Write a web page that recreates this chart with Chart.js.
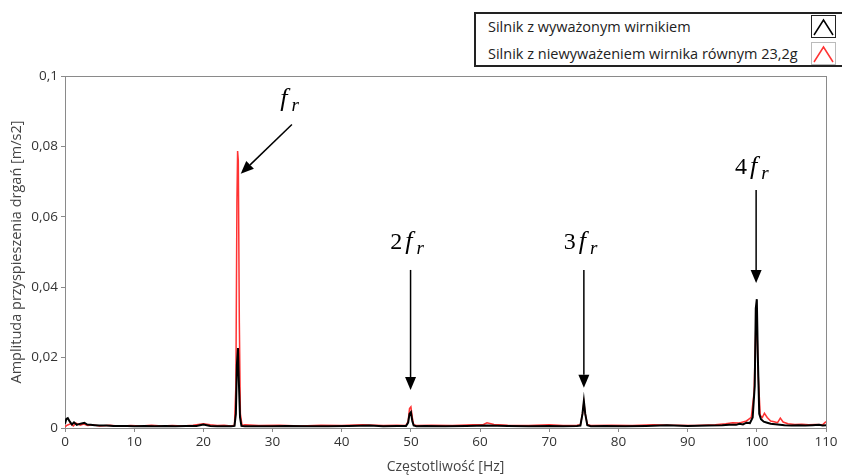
<!DOCTYPE html>
<html>
<head>
<meta charset="utf-8">
<script src="https://cdn.jsdelivr.net/npm/chart.js@4.4.1/dist/chart.umd.min.js"></script>
<style>
  body { margin: 0; background: #fff; }
  #wrap { position: relative; width: 842px; height: 475px; }
  #legend {
    position: absolute; left: 474px; top: 12px; width: 368px; height: 51px;
    border: 2px solid #222; border-right: none; background: #fff;
    font-family: "Open Sans", sans-serif; font-size: 14.5px; color: #222;
  }
  .row { position: absolute; left: 12px; height: 24px; line-height: 24px; }
  .sw { position: absolute; left: 335px; width: 25px; height: 23px; border: 1px solid #222; box-sizing: border-box; }
  .pre { position: absolute; left: -999px; font-family: "Liberation Serif"; }
</style>
</head>
<body>
<div id="wrap">
  <canvas id="c" width="842" height="475"></canvas>
  <div id="legend">
    <div class="row" style="top:1px">Silnik z wyważonym wirnikiem</div>
    <div class="row" style="top:28px">Silnik z niewyważeniem wirnika równym 23,2g</div>
    <div class="sw" style="top:1px"><svg width="23" height="21"><polyline points="2,19 11.5,4 21,19" fill="none" stroke="#000" stroke-width="1.5"/></svg></div>
    <div class="sw" style="top:28px;border-color:#bbb"><svg width="23" height="21"><polyline points="2,19 11.5,4 21,19" fill="none" stroke="#ff3333" stroke-width="1.5"/></svg></div>
  </div>
  <span class="pre">2 <i>f</i></span>
</div>
<script>
const seriesNames = ['Silnik z wyważonym wirnikiem', 'Silnik z niewyważeniem wirnika równym 23,2g'];

const freqBalanced = [0, 0.2, 0.4, 0.7, 1.0, 1.3, 1.7, 2.0, 2.4, 2.8, 3.2, 3.7, 4.3, 5, 6, 7, 8, 9, 10, 11.5, 13, 14.5, 16, 17.5, 19, 20, 21, 22, 23, 24, 24.5, 24.7, 24.85, 25.0, 25.15, 25.3, 25.5, 26, 28, 30, 32, 35, 38, 41, 44, 46, 48, 49.3, 49.6, 49.8, 50.0, 50.2, 50.4, 50.8, 52, 55, 58, 61, 64, 67, 70, 72, 74, 74.5, 74.8, 75.0, 75.2, 75.5, 76, 78, 81, 84, 87, 90, 93, 95, 96, 97, 97.5, 98, 98.5, 99, 99.4, 99.7, 99.85, 100.0, 100.15, 100.35, 100.6, 101, 101.5, 102, 103, 104, 105, 106, 107, 108, 109, 109.5, 110];
const ampBalanced = [0.0012, 0.0026, 0.0028, 0.0018, 0.0010, 0.0016, 0.0009, 0.0011, 0.0013, 0.0015, 0.0010, 0.0009, 0.0008, 0.0007, 0.0007, 0.0006, 0.0006, 0.0006, 0.0005, 0.0006, 0.0005, 0.0006, 0.0005, 0.0006, 0.0006, 0.0010, 0.0006, 0.0005, 0.0005, 0.0005, 0.0006, 0.0040, 0.0180, 0.0227, 0.0120, 0.0030, 0.0006, 0.0005, 0.0005, 0.0005, 0.0006, 0.0005, 0.0005, 0.0006, 0.0007, 0.0005, 0.0006, 0.0006, 0.0015, 0.0040, 0.0045, 0.0020, 0.0007, 0.0005, 0.0006, 0.0005, 0.0006, 0.0007, 0.0006, 0.0005, 0.0006, 0.0005, 0.0006, 0.0007, 0.0040, 0.0077, 0.0040, 0.0008, 0.0005, 0.0006, 0.0005, 0.0006, 0.0008, 0.0006, 0.0007, 0.0008, 0.0009, 0.0009, 0.0012, 0.0010, 0.0015, 0.0014, 0.0030, 0.0120, 0.0340, 0.0366, 0.0200, 0.0040, 0.0025, 0.0018, 0.0015, 0.0012, 0.0010, 0.0008, 0.0007, 0.0008, 0.0007, 0.0008, 0.0009, 0.0007, 0.0008];

const freqUnbalanced = [0, 0.3, 0.8, 1.2, 1.6, 2.2, 2.7, 3.3, 4, 5, 6.5, 8, 9.5, 11, 12.5, 14, 15.5, 17, 18.5, 20, 21, 22, 23, 24, 24.5, 24.7, 24.85, 24.95, 25.05, 25.2, 25.35, 25.6, 26, 28, 31, 34, 37, 40, 43, 46, 48, 49.3, 49.6, 49.8, 50.0, 50.2, 50.4, 50.8, 53, 56, 59, 60.5, 61, 62, 64, 67, 70, 72, 74, 74.5, 74.8, 75.0, 75.2, 75.5, 76, 79, 82, 85, 88, 91, 94, 95.5, 96.5, 97.5, 98.5, 99.2, 99.6, 99.85, 100.0, 100.2, 100.5, 100.8, 101.1, 101.5, 102, 102.5, 103, 103.4, 103.8, 104.5, 105.5, 106.5, 107.5, 108.5, 109.5, 110];
const ampUnbalanced = [0.0003, 0.0008, 0.0012, 0.0006, 0.0014, 0.0008, 0.0011, 0.0007, 0.0009, 0.0006, 0.0008, 0.0005, 0.0007, 0.0006, 0.0008, 0.0006, 0.0007, 0.0006, 0.0008, 0.0012, 0.0009, 0.0007, 0.0008, 0.0006, 0.0008, 0.0120, 0.0640, 0.0787, 0.0760, 0.0300, 0.0040, 0.0007, 0.0009, 0.0007, 0.0008, 0.0006, 0.0008, 0.0007, 0.0009, 0.0007, 0.0008, 0.0007, 0.0020, 0.0055, 0.0060, 0.0030, 0.0009, 0.0007, 0.0008, 0.0007, 0.0009, 0.0010, 0.0015, 0.0010, 0.0008, 0.0007, 0.0009, 0.0007, 0.0008, 0.0009, 0.0040, 0.0072, 0.0040, 0.0010, 0.0007, 0.0008, 0.0007, 0.0009, 0.0008, 0.0007, 0.0009, 0.0012, 0.0015, 0.0014, 0.0020, 0.0030, 0.0100, 0.0280, 0.0300, 0.0150, 0.0035, 0.0030, 0.0042, 0.0030, 0.0020, 0.0018, 0.0015, 0.0028, 0.0017, 0.0012, 0.0010, 0.0011, 0.0009, 0.0010, 0.0009, 0.0018];

const xTicks = [0, 10, 20, 30, 40, 50, 60, 70, 80, 90, 100, 110];
const yTickLabels = ['0', '0,02', '0,04', '0,06', '0,08', '0,1'];

// harmonic annotations: label start / baseline and arrow from -> to, in data units
const harmonics = [
  { mult: '',  lx: 31.1, ly: 0.0915, x0: 32.8, y0: 0.0862, x1: 25.4, y1: 0.0722 },
  { mult: '2', lx: 47.0, ly: 0.0509, x0: 49.95, y0: 0.0449, x1: 49.95, y1: 0.0108 },
  { mult: '3', lx: 72.1, ly: 0.0509, x0: 75.0, y0: 0.0449, x1: 75.0, y1: 0.0114 },
  { mult: '4', lx: 96.85, ly: 0.0722, x0: 99.9, y0: 0.0676, x1: 99.9, y1: 0.0412 }
];

const serif = '"Liberation Serif", "Times New Roman", Tinos, serif';
const toPoints = (xs, ys) => xs.map((x, i) => ({ x: x, y: ys[i] }));

const frame = {
  id: 'frame',
  beforeDatasetsDraw(chart) {
    const { ctx, chartArea: a } = chart;
    ctx.save();
    ctx.strokeStyle = '#8a8a8a';
    ctx.lineWidth = 1;
    ctx.strokeRect(a.left + 0.5, a.top + 0.5, a.right - a.left, a.bottom - a.top);
    ctx.restore();
  }
};

const arrows = {
  id: 'arrows',
  afterDatasetsDraw(chart) {
    const { ctx, scales: { x, y } } = chart;
    ctx.save();
    harmonics.forEach((h) => {
      const px0 = x.getPixelForValue(h.x0), py0 = y.getPixelForValue(h.y0);
      const px1 = x.getPixelForValue(h.x1), py1 = y.getPixelForValue(h.y1);
      const ang = Math.atan2(py1 - py0, px1 - px0);
      const head = 13, half = 5.5;
      const bx = px1 - head * Math.cos(ang), by = py1 - head * Math.sin(ang);
      ctx.strokeStyle = '#000';
      ctx.fillStyle = '#000';
      ctx.lineWidth = 1.5;
      ctx.beginPath();
      ctx.moveTo(px0, py0);
      ctx.lineTo(bx, by);
      ctx.stroke();
      ctx.beginPath();
      ctx.moveTo(px1, py1);
      ctx.lineTo(bx + half * Math.sin(ang), by - half * Math.cos(ang));
      ctx.lineTo(bx - half * Math.sin(ang), by + half * Math.cos(ang));
      ctx.closePath();
      ctx.fill();

      let tx = x.getPixelForValue(h.lx);
      const ty = y.getPixelForValue(h.ly);
      ctx.textBaseline = 'alphabetic';
      ctx.textAlign = 'left';
      if (h.mult) {
        ctx.font = '24px ' + serif;
        ctx.fillText(h.mult, tx, ty);
        tx += ctx.measureText(h.mult).width + 3;
      }
      ctx.font = 'italic 26px ' + serif;
      ctx.fillText('f', tx, ty);
      tx += ctx.measureText('f').width + 4;
      ctx.font = 'italic 19px ' + serif;
      ctx.fillText('r', tx, ty + 5);
    });
    ctx.restore();
  }
};

function draw() {
  new Chart(document.getElementById('c'), {
    type: 'line',
    data: {
      datasets: [
        {
          label: seriesNames[1],
          data: toPoints(freqUnbalanced, ampUnbalanced),
          borderColor: '#ff3333',
          borderWidth: 1.5,
          pointRadius: 0,
          tension: 0,
          order: 2
        },
        {
          label: seriesNames[0],
          data: toPoints(freqBalanced, ampBalanced),
          borderColor: '#000',
          borderWidth: 2,
          pointRadius: 0,
          tension: 0,
          order: 1
        }
      ]
    },
    options: {
      responsive: false,
      animation: false,
      layout: { padding: { left: 0, top: 76, right: 16, bottom: 0 } },
      plugins: { legend: { display: false }, tooltip: { enabled: false } },
      scales: {
        x: {
          type: 'linear',
          min: 0,
          max: 110,
          afterBuildTicks: (s) => { s.ticks = xTicks.map((v) => ({ value: v })); },
          afterFit: (s) => { s.height = 47; },
          grid: { drawOnChartArea: false, drawTicks: true, tickLength: 4, color: '#8a8a8a' },
          border: { display: true, color: '#8a8a8a' },
          ticks: { color: '#333', padding: 2, maxRotation: 0, font: { family: '"Open Sans", sans-serif', size: 13.5 } },
          title: { display: true, text: 'Częstotliwość [Hz]', color: '#444', padding: { top: 0, bottom: 0 }, font: { family: '"Open Sans", sans-serif', size: 14 } }
        },
        y: {
          min: 0,
          max: 0.1,
          ticks: {
            stepSize: 0.02,
            color: '#333',
            padding: 3,
            font: { family: '"Open Sans", sans-serif', size: 13.5 },
            callback: (v, i) => yTickLabels[i]
          },
          afterFit: (s) => { s.width = 65; },
          grid: { drawOnChartArea: false, drawTicks: true, tickLength: 4, color: '#8a8a8a' },
          border: { display: true, color: '#8a8a8a' },
          title: { display: true, text: 'Amplituda przyspieszenia drgań [m/s2]', color: '#444', padding: { top: 8, bottom: 0 }, font: { family: '"Open Sans", sans-serif', size: 14.5 } }
        }
      }
    },
    plugins: [frame, arrows]
  });
}

Promise.all([
  document.fonts.load('24px "Liberation Serif"'),
  document.fonts.load('italic 26px "Liberation Serif"'),
  document.fonts.load('14px "Open Sans"')
]).then(draw, draw);
</script>
</body>
</html>
